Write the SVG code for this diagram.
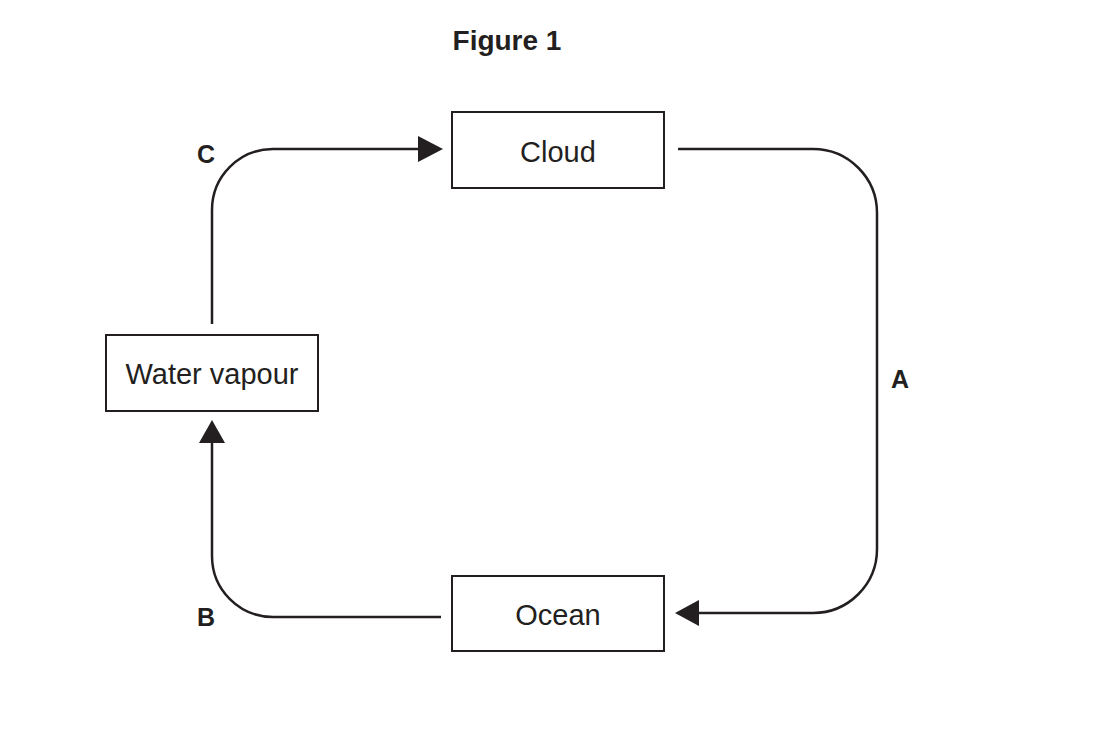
<svg xmlns="http://www.w3.org/2000/svg" width="1108" height="752" viewBox="0 0 1108 752">
<defs>
<style>
.box{fill:#fff;stroke:#231f20;stroke-width:2}
.t{font-family:"Liberation Sans",Arial,sans-serif;font-size:29px;fill:#231f20;text-anchor:middle}
.lbl{font-family:"Liberation Sans",Arial,sans-serif;font-size:25px;font-weight:bold;fill:#231f20;text-anchor:middle}
.c{fill:none;stroke:#231f20;stroke-width:2.5}
.ah{fill:#231f20}
</style>
</defs>
<rect width="1108" height="752" fill="#fff"/>
<text x="507" y="50" font-family="Liberation Sans, Arial, sans-serif" font-size="28" font-weight="bold" fill="#231f20" text-anchor="middle">Figure 1</text>
<g id="connectors">
<path class="c" d="M212,324 V210 A61,61 0 0 1 273,149 H420"/>
<polygon class="ah" points="443,149 418,136 418,162"/>
<path class="c" d="M678,149 H813 A64,64 0 0 1 877,213 V549 A64,64 0 0 1 813,613 H697"/>
<polygon class="ah" points="675,613 699,600 699,626"/>
<path class="c" d="M441,617 H273 A61,61 0 0 1 212,556 V441"/>
<polygon class="ah" points="212,420 199,443 225,443"/>
</g>
<g id="cloud">
<rect class="box" x="452" y="112" width="212" height="76"/>
<text class="t" x="558" y="162">Cloud</text>
</g>
<g id="water-vapour">
<rect class="box" x="106" y="335" width="212" height="76"/>
<text class="t" x="212" y="384">Water vapour</text>
</g>
<g id="ocean">
<rect class="box" x="452" y="576" width="212" height="75"/>
<text class="t" x="558" y="625">Ocean</text>
</g>
<g id="labels">
<text class="lbl" x="206" y="163">C</text>
<text class="lbl" x="900" y="388">A</text>
<text class="lbl" x="206" y="626">B</text>
</g>
</svg>
